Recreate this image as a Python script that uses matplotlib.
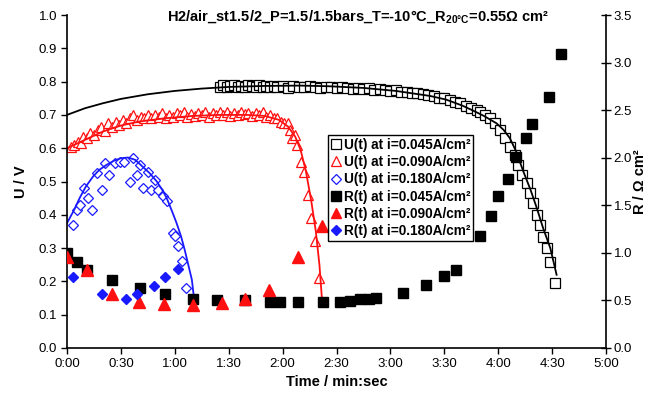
"""
Cell voltage U(t) and resistance R(t) during a -10 C cold start
at three current densities (H2/air, 1.5/1.5 bar).
"""

import matplotlib
matplotlib.use("Agg")
import matplotlib.pyplot as plt
from matplotlib.lines import Line2D

plt.rcParams["font.family"] = ["Liberation Sans", "DejaVu Sans"]
plt.rcParams["mathtext.fontset"] = "custom"
plt.rcParams["mathtext.rm"] = "Liberation Sans"
plt.rcParams["mathtext.bf"] = "Liberation Sans:bold"

# -------------------------------------------------
# Data (time in seconds)
# -------------------------------------------------
# U(t) at 0.045 A/cm2, open squares
t_u045 = [85, 87, 89, 91, 93, 95, 97, 99, 101, 103, 105, 107, 109, 111, 113, 115, 117,
          120, 123, 126, 129, 132, 135, 138, 141, 144, 147,
          150, 153, 156, 159, 162, 165, 168, 171, 174, 177,
          180, 183, 186, 189, 192, 195, 198, 201, 204, 207,
          210, 213, 216, 219, 222, 225, 228,
          229.8, 232.6, 235.4, 238.2, 241, 243.7, 246.5, 249.3, 251, 253.2,
          256, 257.6, 259.3, 261.5, 263.2, 265, 267, 269, 271.5]
u045 = [0.785, 0.79, 0.785, 0.787, 0.79, 0.785, 0.788, 0.783, 0.79, 0.786, 0.784, 0.789, 0.785, 0.787, 0.783, 0.788, 0.785,
        0.786, 0.782, 0.787, 0.785, 0.783, 0.786, 0.784, 0.781, 0.785, 0.783,
        0.78, 0.784, 0.781, 0.779, 0.782, 0.778, 0.78, 0.776, 0.778, 0.774,
        0.772, 0.775, 0.77, 0.768, 0.766, 0.767, 0.762, 0.76, 0.757, 0.752,
        0.75, 0.745, 0.74, 0.735, 0.728, 0.72, 0.714,
        0.709, 0.70, 0.69, 0.675, 0.655, 0.63, 0.604, 0.58, 0.55, 0.52,
        0.495, 0.465, 0.435, 0.40, 0.37, 0.333, 0.30, 0.258, 0.195]

# U(t) at 0.090 A/cm2, open triangles
t_u090 = [2, 4, 6, 8, 9,
          11, 13, 15, 17, 19,
          21, 23, 25, 27, 29,
          31, 33, 35, 37, 39,
          41, 43, 45, 47, 49,
          51, 53, 55, 57, 59,
          61, 63, 65, 67, 69,
          71, 73, 75, 77, 79,
          81, 83, 85, 87, 89,
          91, 93, 95, 97, 99,
          101, 103, 105, 107, 109,
          111, 113, 115, 117, 119,
          121, 123, 124, 125, 127,
          128, 130, 132, 134, 136,
          138, 140]
u090 = [0.605, 0.61, 0.62, 0.615, 0.635,
        0.63, 0.645, 0.64, 0.655, 0.665,
        0.652, 0.675, 0.665, 0.68, 0.67,
        0.685, 0.675, 0.69, 0.70, 0.685,
        0.695, 0.69, 0.70, 0.69, 0.70,
        0.695, 0.705, 0.69, 0.70, 0.695,
        0.705, 0.70, 0.708, 0.695, 0.703,
        0.698, 0.706, 0.70, 0.71, 0.695,
        0.705, 0.70, 0.708, 0.70, 0.71,
        0.698, 0.706, 0.70, 0.71, 0.703,
        0.707, 0.697, 0.705, 0.70, 0.71,
        0.695, 0.70, 0.69, 0.69, 0.68,
        0.676, 0.675, 0.655, 0.63, 0.64,
        0.61, 0.56, 0.53, 0.46, 0.39,
        0.32, 0.21]

# U(t) at 0.180 A/cm2, open diamonds
t_u180 = [3.5, 5.5, 7, 9.5, 11.5, 14, 16.5, 19.5, 21, 23.5,
          26.5, 29.5, 32, 35, 37, 39, 40.5, 42.5, 45, 47,
          49, 50.5, 53.5, 55.5, 59, 60, 62, 64, 66]
u180 = [0.37, 0.415, 0.43, 0.48, 0.45, 0.415, 0.525, 0.475, 0.555, 0.52,
        0.555, 0.56, 0.56, 0.50, 0.57, 0.52, 0.55, 0.48, 0.53, 0.475,
        0.505, 0.475, 0.455, 0.44, 0.345, 0.335, 0.305, 0.26, 0.18]

# trend lines through the U(t) data
t_fit045 = [0, 10, 20, 30, 45, 60, 75, 90, 110, 130, 146, 165, 183, 202, 211, 220,
            226, 232, 239, 243, 246.5, 250, 254, 258, 261.5, 265, 269, 272.5]
fit045 = [0.70, 0.72, 0.735, 0.748, 0.762, 0.772, 0.779, 0.784, 0.787, 0.788, 0.786,
          0.781, 0.772, 0.757, 0.746, 0.728, 0.713, 0.697, 0.675, 0.655, 0.63, 0.59,
          0.53, 0.475, 0.42, 0.36, 0.30, 0.22]
t_fit090 = [0, 10, 20, 30, 40, 55, 70, 85, 100, 110, 118, 123, 127, 130, 133, 136,
            138.5, 140.5, 142]
fit090 = [0.60, 0.625, 0.65, 0.668, 0.68, 0.69, 0.697, 0.70, 0.70, 0.697, 0.685,
          0.665, 0.635, 0.595, 0.53, 0.44, 0.35, 0.25, 0.14]
t_fit180 = [0, 4, 7, 10.5, 14.5, 18, 22, 26, 30, 34, 38, 42, 46, 50, 53, 55.5,
            58.5, 61, 63.5, 65.5, 67.5, 69.5, 71]
fit180 = [0.375, 0.415, 0.45, 0.485, 0.515, 0.535, 0.55, 0.562, 0.57, 0.572, 0.565,
          0.545, 0.525, 0.50, 0.475, 0.45, 0.41, 0.375, 0.335, 0.295, 0.25, 0.205, 0.135]

# R(t), right axis
t_r045 = [0, 5.5, 11, 25, 40.5, 54.5, 70, 83.5, 99, 113, 118.5, 128.5, 142.5, 152,
          157.5, 163, 168, 172, 187, 200, 210, 216.5, 230, 236, 240, 245.5, 250,
          255.5, 259, 268, 275]
r045 = [1.0, 0.90, 0.82, 0.715, 0.63, 0.57, 0.52, 0.50, 0.50, 0.48, 0.48, 0.48, 0.48,
        0.48, 0.49, 0.51, 0.52, 0.53, 0.58, 0.66, 0.76, 0.82, 1.18, 1.39, 1.60, 1.78,
        2.01, 2.21, 2.35, 2.64, 3.09]
t_r090 = [0, 11, 25, 40, 54, 70, 86, 99, 112.5, 128.5, 142]
r090 = [0.96, 0.82, 0.57, 0.48, 0.46, 0.45, 0.47, 0.52, 0.61, 0.96, 1.28]
t_r180 = [3.5, 19.5, 33, 39, 48.5, 54.5, 62]
r180 = [0.75, 0.57, 0.51, 0.57, 0.65, 0.75, 0.83]

x_ticks = [0, 30, 60, 90, 120, 150, 180, 210, 240, 270, 300]
x_labels = ["0:00", "0:30", "1:00", "1:30", "2:00", "2:30",
            "3:00", "3:30", "4:00", "4:30", "5:00"]

RED = "#ff1010"
BLUE = "#1a1aff"

# -------------------------------------------------
# Plot
# -------------------------------------------------
fig = plt.figure(figsize=(6.51, 4.03), dpi=100)
ax = fig.add_axes([67 / 651, 1 - 348 / 403, 539 / 651, 333 / 403])
ax2 = ax.twinx()

ax.plot(t_u045, u045, "s", ms=6.5, mfc="white", mec="black", mew=0.9, ls="none")
ax.plot(t_u090, u090, "^", ms=7, mfc="white", mec=RED, mew=0.9, ls="none")
ax.plot(t_u180, u180, "D", ms=5, mfc="white", mec=BLUE, mew=0.9, ls="none")
ax.plot(t_fit045, fit045, color="black", lw=1.3)
ax.plot(t_fit090, fit090, color=RED, lw=1.3)
ax.plot(t_fit180, fit180, color=BLUE, lw=1.3)

ax2.plot(t_r045, r045, "s", ms=7.5, color="black", ls="none")
ax2.plot(t_r090, r090, "^", ms=8.5, color=RED, ls="none")
ax2.plot(t_r180, r180, "D", ms=5.5, color=BLUE, ls="none")

ax.set_xlim(0, 300)
ax.set_ylim(0, 1.0)
ax2.set_ylim(0, 3.5)
ax.set_xticks(x_ticks)
ax.set_xticklabels(x_labels)
ax.set_yticks([i / 10 for i in range(11)])
ax.set_yticklabels([f"{i / 10:.1f}" for i in range(11)])
ax2.set_yticks([i / 2 for i in range(8)])
ax2.set_yticklabels([f"{i / 2:.1f}" for i in range(8)])

for a in (ax, ax2):
    a.spines["top"].set_visible(False)
    for s in a.spines.values():
        s.set_linewidth(1.2)
ax.spines["right"].set_visible(False)
ax2.spines["left"].set_visible(False)
ax2.spines["bottom"].set_visible(False)

ax.tick_params(axis="both", direction="out", length=4, width=1, labelsize=9.5, pad=3)
ax2.tick_params(axis="y", direction="inout", length=7, width=1, labelsize=9.5, pad=2)

ax.set_xlabel("Time / min:sec", fontsize=10.5, fontweight="bold", labelpad=4)
ax.set_ylabel("U / V", fontsize=10.5, fontweight="bold", labelpad=8)
ax2.set_ylabel("R / \u03a9 cm\u00b2", fontsize=10.5, fontweight="bold")
ax2.yaxis.set_label_coords(1.05, 0.5)

fig.text(0.55, 0.958,
         r"H2/air_st1.5/2_P=1.5/1.5bars_T=-10°C_R$_\mathbf{20°C}$=0.55Ω cm²",
         ha="center", va="center", fontsize=10.5, fontweight="bold")

handles = [
    Line2D([], [], marker="s", ms=6.5, mfc="white", mec="black", mew=0.9, ls="none"),
    Line2D([], [], marker="^", ms=7, mfc="white", mec=RED, mew=0.9, ls="none"),
    Line2D([], [], marker="D", ms=5, mfc="white", mec=BLUE, mew=0.9, ls="none"),
    Line2D([], [], marker="s", ms=7, color="black", ls="none"),
    Line2D([], [], marker="^", ms=7.5, color=RED, ls="none"),
    Line2D([], [], marker="D", ms=5.5, color=BLUE, ls="none"),
]
labels = ["U(t) at i=0.045A/cm\u00b2", "U(t) at i=0.090A/cm\u00b2", "U(t) at i=0.180A/cm\u00b2",
          "R(t) at i=0.045A/cm\u00b2", "R(t) at i=0.090A/cm\u00b2", "R(t) at i=0.180A/cm\u00b2"]
leg = ax2.legend(handles, labels, loc="upper left", bbox_to_anchor=(0.484, 0.64),
                 borderaxespad=0, frameon=True, fancybox=False, framealpha=1,
                 edgecolor="black", prop={"size": 9.8, "weight": "bold"},
                 handlelength=0.7, handletextpad=0.25, labelspacing=0.24,
                 borderpad=0.22)
leg.get_frame().set_linewidth(1.0)

fig.savefig("out.png", dpi=100)
plt.close(fig)
